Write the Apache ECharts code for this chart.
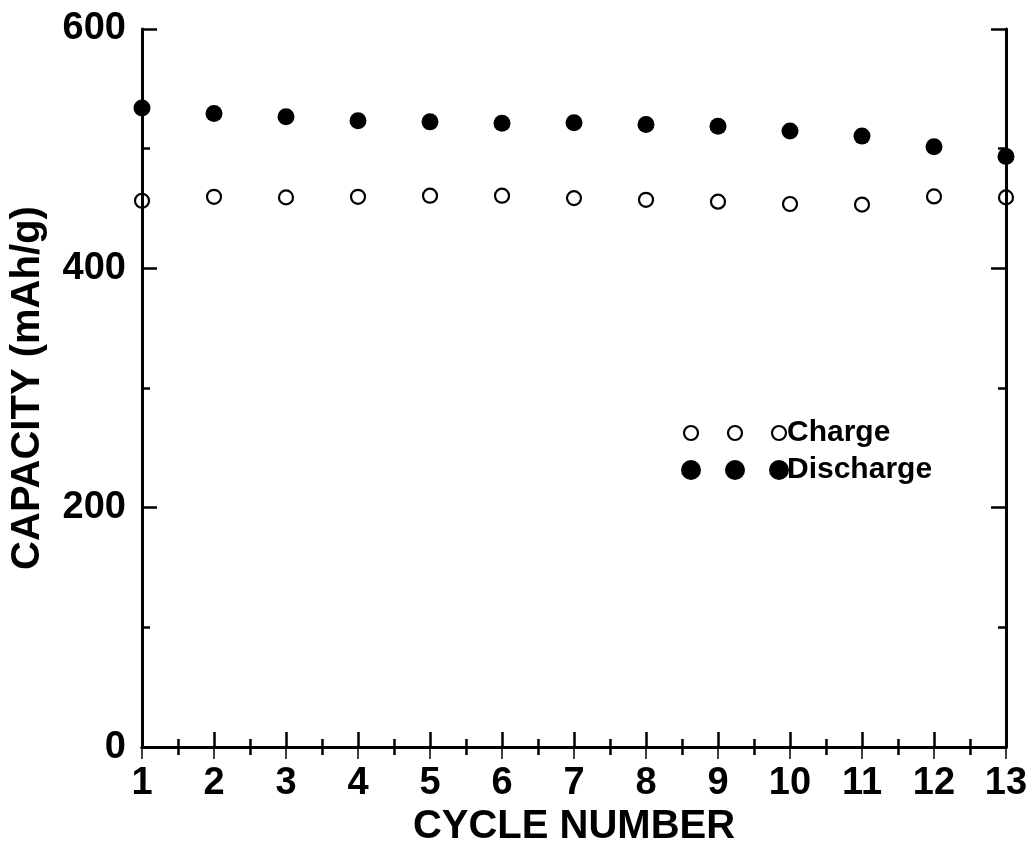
<!DOCTYPE html>
<html>
<head>
<meta charset="utf-8">
<script src="https://cdn.jsdelivr.net/npm/echarts@6/dist/echarts.min.js"></script>
<style>
  html, body { margin: 0; padding: 0; background: #fff; }
  #chart { width: 1032px; height: 852px; }
</style>
</head>
<body>
<div id="chart"></div>
<script>
// Cycle-by-cycle capacity of the cell (mAh/g)
var cycles = [1, 2, 3, 4, 5, 6, 7, 8, 9, 10, 11, 12, 13];
var chargeCapacity = [456.5, 459.8, 459.3, 459.8, 460.7, 460.7, 458.7, 457.3, 455.7, 453.8, 453.3, 460.1, 459.3];
var dischargeCapacity = [534, 529.4, 526.6, 523.3, 522.4, 521.3, 521.6, 520.2, 518.8, 514.7, 510.5, 501.7, 493.4];
var seriesNames = ['Charge', 'Discharge'];
var xTitle = 'CYCLE NUMBER';
var yTitle = 'CAPACITY (mAh/g)';

function pairs(xs, ys) {
  return xs.map(function (x, i) { return [x, ys[i]]; });
}

var FONT = '"Liberation Sans", Arial, Helvetica, sans-serif';
var INK = '#000';

var chart = echarts.init(document.getElementById('chart'), null, { renderer: 'canvas' });

function frameAxis(extra) {
  return Object.assign({
    type: 'value',
    axisLine: { show: true, lineStyle: { color: INK, width: 3 } },
    axisTick: { show: true, inside: true, length: 15, lineStyle: { color: INK, width: 2.5 } },
    minorTick: { show: true, splitNumber: 2, length: 8, lineStyle: { color: INK, width: 2.5 } },
    splitLine: { show: false },
    minorSplitLine: { show: false }
  }, extra);
}

// legend: three markers followed by the series name, one row per series
var legendX = [691, 735, 779];
var legendRows = [
  { y: 433, name: seriesNames[0], filled: false },
  { y: 470, name: seriesNames[1], filled: true }
];
var legendGraphics = [];
legendRows.forEach(function (row) {
  legendX.forEach(function (x) {
    legendGraphics.push({
      type: 'circle',
      shape: { cx: x, cy: row.y, r: row.filled ? 10 : 7 },
      style: row.filled
        ? { fill: INK, stroke: null }
        : { fill: 'transparent', stroke: INK, lineWidth: 2.2 }
    });
  });
  legendGraphics.push({
    type: 'text',
    x: 787, y: row.y,
    style: {
      text: row.name, fill: INK,
      font: 'bold 30px ' + FONT,
      textVerticalAlign: 'middle', textAlign: 'left'
    }
  });
});

var option = {
  animation: false,
  backgroundColor: '#fff',
  grid: { left: 141, right: 26, top: 29, bottom: 101, containLabel: false },
  xAxis: [
    frameAxis({
      position: 'bottom', min: 1, max: 13, interval: 1,
      name: xTitle, nameLocation: 'middle', nameGap: 57,
      nameTextStyle: { color: INK, fontFamily: FONT, fontWeight: 'bold', fontSize: 40 },
      axisLabel: { color: INK, fontFamily: FONT, fontWeight: 'bold', fontSize: 38, margin: 17 }
    }),
    frameAxis({
      position: 'top', min: 1, max: 13, interval: 1,
      axisTick: { show: true, inside: true, length: 12, lineStyle: { color: INK, width: 1.5 } },
      axisLabel: { show: false }
    })
  ],
  yAxis: [
    frameAxis({
      position: 'left', min: 0, max: 600, interval: 200,
      name: yTitle, nameLocation: 'middle', nameGap: 94, nameRotate: 90,
      nameTextStyle: { color: INK, fontFamily: FONT, fontWeight: 'bold', fontSize: 40 },
      axisLabel: { color: INK, fontFamily: FONT, fontWeight: 'bold', fontSize: 38, margin: 16 }
    }),
    frameAxis({
      position: 'right', min: 0, max: 600, interval: 200,
      axisLabel: { show: false }
    })
  ],
  graphic: legendGraphics,
  series: [
    {
      name: seriesNames[0],
      type: 'scatter',
      clip: false,
      symbol: 'circle',
      symbolSize: 14,
      itemStyle: { color: 'transparent', borderColor: INK, borderWidth: 2.2, opacity: 1 },
      data: pairs(cycles, chargeCapacity)
    },
    {
      name: seriesNames[1],
      type: 'scatter',
      clip: false,
      symbol: 'circle',
      symbolSize: 17,
      itemStyle: { color: INK, opacity: 1 },
      data: pairs(cycles, dischargeCapacity)
    }
  ]
};

chart.setOption(option);
</script>
</body>
</html>
